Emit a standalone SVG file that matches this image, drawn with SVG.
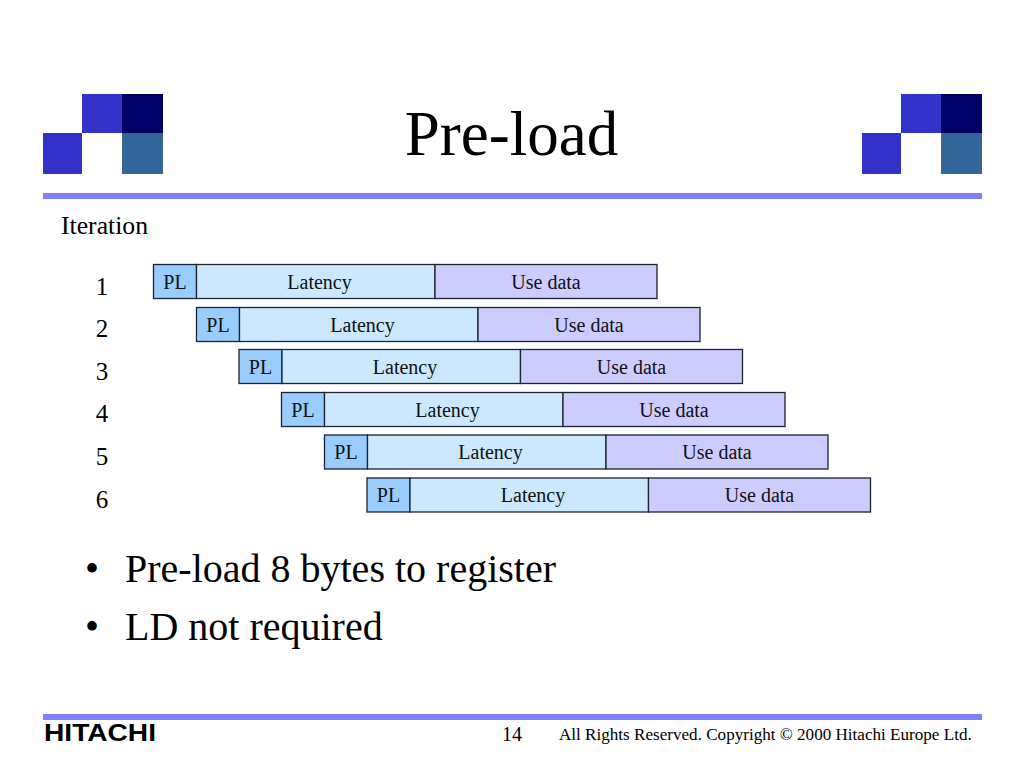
<svg xmlns="http://www.w3.org/2000/svg" xmlns:xlink="http://www.w3.org/1999/xlink" width="1024" height="768" viewBox="0 0 1024 768">
<style>
text{font-family:"Liberation Serif","Times New Roman",serif;fill:#000}
.c{font-size:20px;text-anchor:middle;fill:#111}
.n{font-size:25px;text-anchor:middle}
.b{font-size:40px}
.s{stroke:#1a2433;stroke-width:1.3}
.pl{fill:#99ccff}.la{fill:#cce8ff}.us{fill:#ccccff}
.bar{fill:#8080ff}
</style>
<defs>
<g id="deco">
<rect x="0" y="39" width="39" height="41" fill="#3333cc"/>
<rect x="39" y="0" width="40" height="39" fill="#3333cc"/>
<rect x="79" y="0" width="41" height="39" fill="#000066"/>
<rect x="79" y="39" width="41" height="41" fill="#336699"/>
</g>
<g id="row">
<rect class="s pl" x="0" y="0" width="43" height="34"/>
<rect class="s la" x="43" y="0" width="238.500" height="34"/>
<rect class="s us" x="281.500" y="0" width="222" height="34"/>
<text class="c" x="21.500" y="24">PL</text>
<text class="c" x="166" y="24">Latency</text>
<text class="c" x="392.500" y="24">Use data</text>
</g>
</defs>
<rect width="1024" height="768" fill="#fff"/>
<g id="header">
<use xlink:href="#deco" x="43" y="94"/>
<use xlink:href="#deco" x="862" y="94"/>
<rect class="bar" x="43" y="193" width="939" height="6"/>
<text x="511.500" y="155" font-size="63" text-anchor="middle">Pre-load</text>
<text x="61" y="234" font-size="25.700">Iteration</text>
</g>
<g id="iteration-1"><text class="n" x="102" y="295">1</text><use xlink:href="#row" x="153.500" y="264.500"/></g>
<g id="iteration-2"><text class="n" x="102" y="337">2</text><use xlink:href="#row" x="196.500" y="307.500"/></g>
<g id="iteration-3"><text class="n" x="102" y="380">3</text><use xlink:href="#row" x="239" y="349.500"/></g>
<g id="iteration-4"><text class="n" x="102" y="422">4</text><use xlink:href="#row" x="281.500" y="392.500"/></g>
<g id="iteration-5"><text class="n" x="102" y="465">5</text><use xlink:href="#row" x="324.500" y="435"/></g>
<g id="iteration-6"><text class="n" x="102" y="508">6</text><use xlink:href="#row" x="367" y="478"/></g>
<g id="connectors"/>
<g id="bullets">
<text class="b" x="85" y="582">•</text><text class="b" x="125" y="582">Pre-load 8 bytes to register</text>
<text class="b" x="85" y="640">•</text><text class="b" x="125" y="640">LD not required</text>
</g>
<g id="footer">
<rect class="bar" x="43" y="714" width="939" height="6"/>
<text x="44" y="741" textLength="112" lengthAdjust="spacingAndGlyphs" style="font-family:'Liberation Sans',Arial,sans-serif;font-weight:bold;font-size:23.500px">HITACHI</text>
<text x="502" y="741" font-size="20">14</text>
<text x="559" y="740" font-size="17.100">All Rights Reserved. Copyright © 2000 Hitachi Europe Ltd.</text>
</g>
</svg>
